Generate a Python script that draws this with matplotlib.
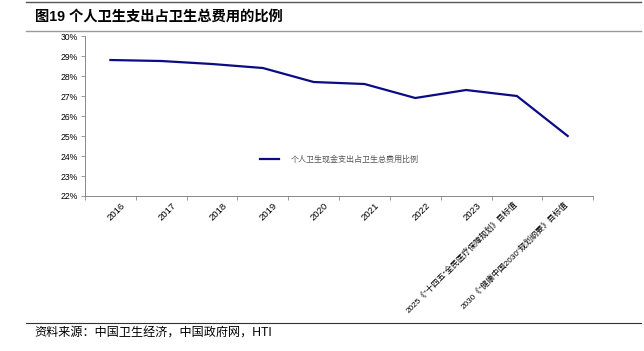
import matplotlib
matplotlib.use('Agg')
import matplotlib.pyplot as plt
from matplotlib.lines import Line2D

plt.rcParams['font.family'] = ['Liberation Sans', 'Noto Sans CJK SC', 'DejaVu Sans']

# data
categories = ['2016', '2017', '2018', '2019', '2020', '2021', '2022', '2023',
              '2025《"十四五"全民医疗保障规划》目标值',
              '2030《"健康中国2030"规划纲要》目标值']
share = [28.8, 28.75, 28.6, 28.4, 27.7, 27.6, 26.9, 27.3, 27.0, 25.0]
yticks = [22, 23, 24, 25, 26, 27, 28, 29, 30]

fig = plt.figure(figsize=(6.44, 3.51), dpi=100)
ax = fig.add_axes([0.132, 0.4416, 0.789, 0.4558])

x = list(range(len(categories)))
ax.plot(x, share, color='#0B0B85', lw=1.6)

ax.set_xlim(-0.5, len(categories) - 0.5)
ax.set_ylim(22, 30)
ax.set_yticks(yticks)
ax.set_yticklabels([f'{v}%' for v in yticks], fontsize=6.2)
ax.tick_params(axis='y', length=3, width=0.6, color='#888888', pad=2)

# ticks between categories, labels at centers
ax.set_xticks([i + 0.5 for i in x[:-1]] + [-0.5, len(categories) - 0.5])
ax.set_xticklabels([])
ax.tick_params(axis='x', length=3, width=0.6, color='#888888')
for i, lab in enumerate(categories):
    if len(lab) > 4:
        ax.text(i - 0.08, 21.8, lab, rotation=45, ha='right', va='top',
                rotation_mode='anchor', fontsize=5.85)
    else:
        ax.text(i + 0.2, 21.75, lab, rotation=45, ha='right', va='top',
                rotation_mode='anchor', fontsize=6.8)

for s in ['top', 'right']:
    ax.spines[s].set_visible(False)
for s in ['left', 'bottom']:
    ax.spines[s].set_color('#888888')
    ax.spines[s].set_linewidth(0.7)

# legend
handle = Line2D([], [], color='#0B0B85', lw=1.6)
ax.legend([handle], ['个人卫生现金支出占卫生总费用比例'], loc='center',
          bbox_to_anchor=(0.5, 0.225), frameon=False, fontsize=5.8,
          handlelength=2.4, handletextpad=1.4, labelcolor='#555555')

# title and source
fig.text(0.054, 0.952, '图19 个人卫生支出占卫生总费用的比例', fontsize=10.3,
         fontweight='bold', va='center')
fig.add_artist(Line2D([0.04, 0.995], [0.993, 0.993], color='#555555', lw=1.0))
fig.add_artist(Line2D([0.04, 0.995], [0.912, 0.912], color='#999999', lw=1.0))
fig.add_artist(Line2D([0.04, 0.995], [0.081, 0.081], color='#333333', lw=0.8))
fig.text(0.054, 0.05, '资料来源：中国卫生经济，中国政府网，HTI', fontsize=8.7,
         va='center')

fig.savefig('out.png', dpi=100)
